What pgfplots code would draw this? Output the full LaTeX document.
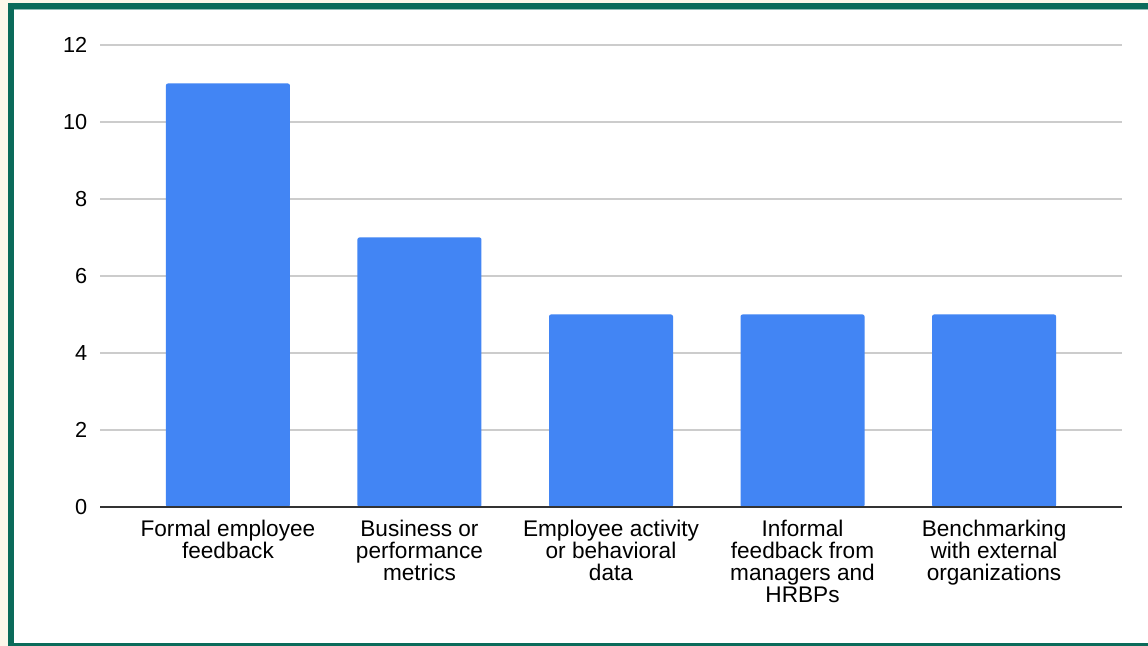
\documentclass[border=0pt]{standalone}
\usepackage{pgfplots}
\pgfplotsset{compat=1.18}
\usepackage{fontspec}
\setmainfont{Liberation Sans}
\definecolor{cream}{HTML}{FDF7EA}
\definecolor{frame}{HTML}{0B6B5A}
\definecolor{barblue}{HTML}{4285F4}
\definecolor{gridgray}{HTML}{CCCCCC}
\definecolor{axisdark}{HTML}{333333}
\begin{document}
\begin{tikzpicture}[x=1bp,y=1bp]
\fill[cream] (0,0) rectangle (1148,646);
\fill[frame] (8,0) rectangle (1148,643);
\fill[white] (14,2.5) rectangle (1148,636.5);
\draw[color=frame!45!white, line width=0.8bp] (14,636.3) -- (1148,636.3);
\begin{axis}[
  at={(100bp,139bp)}, anchor=south west,
  scale only axis, width=1022bp, height=462bp,
  xmin=-0.668, xmax=4.668, ymin=0, ymax=12,
  ytick={0,2,4,6,8,10,12},
  xtick={0,1,2,3,4},
  xticklabels={{Formal employee\\feedback},{Business or\\performance\\metrics},{Employee activity\\or behavioral\\data},{Informal\\feedback from\\managers and\\HRBPs},{Benchmarking\\with external\\organizations}},
  axis line style={draw=none},
  major tick length=0pt,
  ymajorgrids, grid style={color=gridgray, line width=1.3bp},
  /pgf/number format/assume math mode=true,
  yticklabel style={font=\fontsize{21.8}{21.8}\selectfont, inner sep=0pt, anchor=east, xshift=-12.5bp},
  xticklabel style={font=\fontsize{22.7}{22.2}\selectfont, align=center, inner sep=0pt, anchor=north, yshift=-13bp},
  clip=false,
]
\addplot[ybar, bar width=124bp, bar shift=0pt, fill=barblue, draw=none, rounded corners=2bp] coordinates {(0,11) (1,7) (2,5) (3,5) (4,5)};
\draw[axisdark, line width=1.5bp] (axis cs:-0.668,0) -- (axis cs:4.668,0);
\end{axis}
\pgfresetboundingbox
\useasboundingbox (0,0) rectangle (1148,646);
\end{tikzpicture}
\end{document}
